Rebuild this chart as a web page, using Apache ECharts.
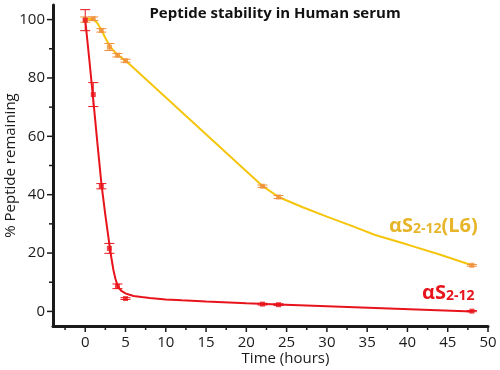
<!DOCTYPE html>
<html>
<head>
<meta charset="utf-8">
<script src="https://cdn.jsdelivr.net/npm/echarts@6/dist/echarts.min.js"></script>
<style>html,body{margin:0;padding:0;background:#fff}#c{width:500px;height:370px}</style>
</head>
<body>
<div id="c"></div>
<script>
// ---- data ----
var times = [0, 1, 2, 3, 4, 5, 22, 24, 48];
var redValues = [99.8, 74.3, 42.9, 21.6, 8.6, 4.4, 2.5, 2.3, 0.1];
var redErrors = [3.6, 4.1, 0.9, 1.7, 0.8, 0.3, 0.3, 0.3, 0.2];
var goldValues = [100, 100.3, 96.3, 90.6, 87.8, 85.9, 42.9, 39.2, 15.8];
var goldErrors = [0.9, 0.6, 0.6, 1.2, 0.6, 0.5, 0.4, 0.5, 0.3];
// fitted curves
var redFitT = [0, 0.5, 1, 1.5, 2, 2.5, 3, 3.25, 3.5, 3.75, 4, 4.25, 4.5, 5, 5.5, 6, 7, 8, 10, 12, 15, 20, 24, 30, 36, 42, 48];
var redFitY = [100, 86.5, 72.5, 58, 44, 33, 23, 18.3, 14.2, 11.2, 9.0, 7.8, 7.0, 6.2, 5.7, 5.3, 4.9, 4.6, 4.1, 3.8, 3.4, 2.8, 2.4, 1.8, 1.2, 0.6, 0];
var goldFitT = [0, 0.5, 1, 1.5, 2, 2.5, 3, 3.5, 4, 4.5, 5, 22, 24, 27, 30, 33, 36, 40, 44, 48];
var goldFitY = [100, 100.2, 100.2, 98.8, 96.5, 93.7, 91.2, 89.4, 88, 86.9, 86, 43, 39.2, 35.7, 32.5, 29.4, 26.2, 22.9, 19.5, 15.8];
var xTicks = [0, 5, 10, 15, 20, 25, 30, 35, 40, 45, 50];
var xMinorTicks = [-2.5, 2.5, 7.5, 12.5, 17.5, 22.5, 27.5, 32.5, 37.5, 42.5, 47.5];
var yTicks = [0, 20, 40, 60, 80, 100];
var yMinorTicks = [10, 30, 50, 70, 90];
var xRange = [-4, 50];
var yRange = [-5, 105];
var titleText = 'Peptide stability in Human serum';
var xName = 'Time (hours)';
var yName = '% Peptide remaining';

function zip(a, b) { return a.map(function (v, i) { return [v, b[i]]; }); }
function zip3(a, b, c) { return a.map(function (v, i) { return [v, b[i], c[i]]; }); }

var RED = '#e8141c', GOLD = '#f5c50c', ORANGE = '#f0903a', LABELGOLD = '#e6b52a';
var FONT = 'Open Sans';
var AX = '#1a1a1a';

function errRender(color) {
  return function (params, api) {
    var x = api.value(0), y = api.value(1), e = api.value(2);
    var top = api.coord([x, y + e]);
    var bot = api.coord([x, y - e]);
    var w = 5;
    var st = { stroke: color, lineWidth: 1 };
    return {
      type: 'group',
      children: [
        { type: 'line', shape: { x1: top[0], y1: top[1], x2: bot[0], y2: bot[1] }, style: st },
        { type: 'line', shape: { x1: top[0] - w, y1: top[1], x2: top[0] + w, y2: top[1] }, style: st },
        { type: 'line', shape: { x1: bot[0] - w, y1: bot[1], x2: bot[0] + w, y2: bot[1] }, style: st }
      ]
    };
  };
}

// left and bottom axis lines plus ticks, placed through the axes' own scales
function axisRender(params, api) {
  var c0 = api.coord([xRange[0], yRange[0]]);
  var cTop = api.coord([xRange[0], yRange[1]]);
  var cRight = api.coord([xRange[1], yRange[0]]);
  var L = c0[0], B = c0[1], T = cTop[1], R = cRight[0];
  var ch = [
    { type: 'line', shape: { x1: L, y1: T, x2: L, y2: B + 1 }, style: { stroke: AX, lineWidth: 2 } },
    { type: 'line', shape: { x1: L - 1, y1: B, x2: R, y2: B }, style: { stroke: AX, lineWidth: 2 } }
  ];
  function xt(vals, len) {
    vals.forEach(function (v) {
      var px = api.coord([v, yRange[0]])[0];
      ch.push({ type: 'line', shape: { x1: px, y1: B, x2: px, y2: B + len }, style: { stroke: AX, lineWidth: 1.5 } });
    });
  }
  function yt(vals, len) {
    vals.forEach(function (v) {
      var py = api.coord([xRange[0], v])[1];
      ch.push({ type: 'line', shape: { x1: L - len, y1: py, x2: L, y2: py }, style: { stroke: AX, lineWidth: 1.5 } });
    });
  }
  xt(xTicks, 6); xt(xMinorTicks, 4); yt(yTicks, 6); yt(yMinorTicks, 4);
  return { type: 'group', children: ch };
}

function pick(list) {
  return function (v) { return list.indexOf(Math.round(v * 1000) / 1000) >= 0 ? String(Math.round(v)) : ''; };
}

var chart = echarts.init(document.getElementById('c'));
chart.setOption({
  animation: false,
  title: {
    text: titleText, left: 270, top: 1, textAlign: 'center',
    textStyle: { fontFamily: FONT, fontSize: 15, fontWeight: 'bold', color: '#111' }
  },
  grid: { left: 53, right: 12, top: 5, bottom: 44, outerBoundsMode: 'none', containLabel: false },
  xAxis: {
    type: 'value', min: xRange[0], max: xRange[1], interval: 1,
    name: xName, nameLocation: 'middle', nameGap: 25, nameMoveOverlap: false,
    nameTextStyle: { fontFamily: FONT, fontSize: 15, color: AX, padding: [0, 0, 0, 30] },
    axisLine: { show: true, onZero: false, lineStyle: { color: AX, width: 3 } },
    axisTick: { show: false },
    axisLabel: { formatter: pick(xTicks), margin: 9, hideOverlap: false, fontFamily: FONT, fontSize: 15, color: AX },
    splitLine: { show: false }
  },
  yAxis: {
    type: 'value', min: yRange[0], max: yRange[1], interval: 5,
    name: yName, nameLocation: 'middle', nameGap: 35, nameMoveOverlap: false,
    nameTextStyle: { fontFamily: FONT, fontSize: 15, color: AX },
    axisLine: { show: true, onZero: false, lineStyle: { color: AX, width: 3 } },
    axisTick: { show: false },
    axisLabel: { formatter: pick(yTicks), align: 'right', margin: 8, hideOverlap: false, fontFamily: FONT, fontSize: 15, color: AX },
    splitLine: { show: false }
  },
  series: [
    {
      type: 'custom', data: [[xRange[0], yRange[0]]], encode: { x: 0, y: 1 },
      renderItem: axisRender, clip: false, silent: true, z: 5
    },
    {
      type: 'line', data: zip(goldFitT, goldFitY), smooth: false,
      symbol: 'none', lineStyle: { color: GOLD, width: 2 }, z: 2
    },
    {
      type: 'line', data: zip(redFitT, redFitY), smooth: false,
      symbol: 'none', lineStyle: { color: RED, width: 2 }, z: 2
    },
    { type: 'custom', data: zip3(times, goldValues, goldErrors), renderItem: errRender(ORANGE), z: 3 },
    { type: 'custom', data: zip3(times, redValues, redErrors), renderItem: errRender(RED), z: 3 },
    {
      type: 'scatter', data: zip(times, goldValues), symbol: 'rect', symbolSize: 5,
      itemStyle: { color: ORANGE }, z: 4
    },
    {
      type: 'scatter', data: zip(times, redValues), symbol: 'rect', symbolSize: 5,
      itemStyle: { color: RED }, z: 4
    }
  ],
  graphic: [
    {
      type: 'text', left: 389, top: 216,
      style: {
        text: '{a|αS}{b|2-12}{a|(L6)}',
        rich: {
          a: { fontFamily: FONT, fontSize: 20, fontWeight: 'bold', fill: LABELGOLD, lineHeight: 24, verticalAlign: 'bottom' },
          b: { fontFamily: FONT, fontSize: 14, fontWeight: 'bold', fill: LABELGOLD, lineHeight: 14, verticalAlign: 'bottom' }
        }
      }
    },
    {
      type: 'text', left: 422, top: 283,
      style: {
        text: '{a|αS}{b|2-12}',
        rich: {
          a: { fontFamily: FONT, fontSize: 20, fontWeight: 'bold', fill: RED, lineHeight: 24, verticalAlign: 'bottom' },
          b: { fontFamily: FONT, fontSize: 14, fontWeight: 'bold', fill: RED, lineHeight: 14, verticalAlign: 'bottom' }
        }
      }
    }
  ]
});
</script>
</body>
</html>
